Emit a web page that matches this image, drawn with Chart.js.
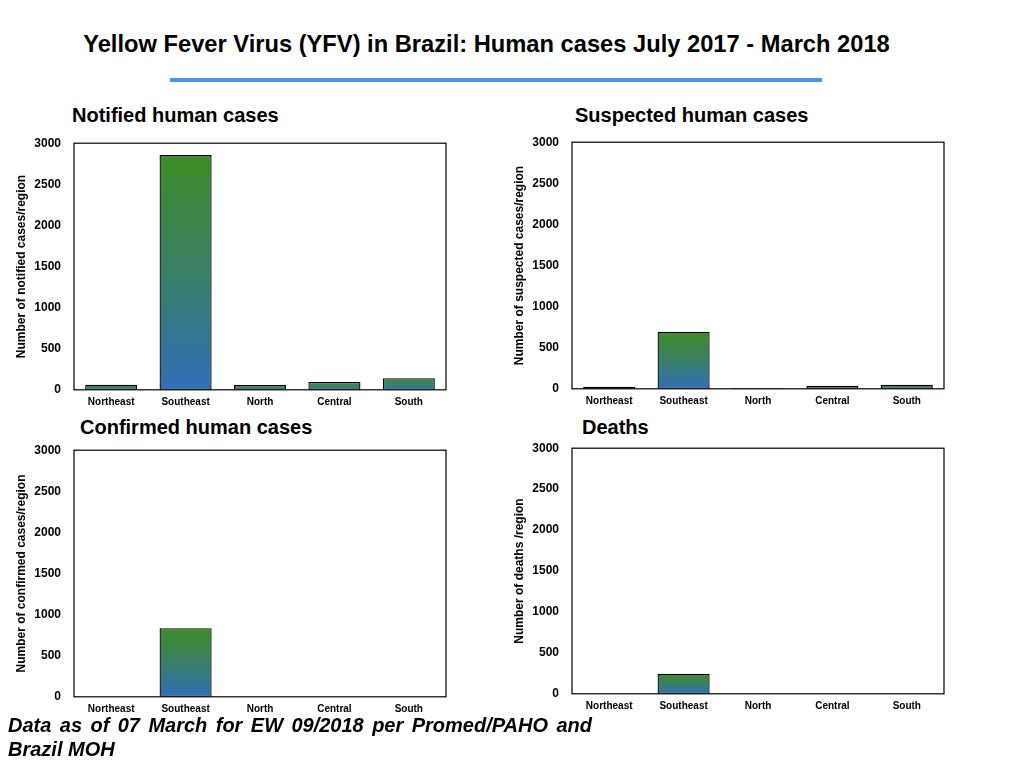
<!DOCTYPE html>
<html>
<head>
<meta charset="utf-8">
<script src="https://cdn.jsdelivr.net/npm/chart.js@4.4.1/dist/chart.umd.min.js"></script>
<style>
  body { margin: 0; width: 1024px; height: 768px; background: #fff; position: relative; overflow: hidden;
         font-family: "Liberation Sans", Arial, sans-serif; color: #000; }
  .abs { position: absolute; }
  #title { left: 0; width: 973px; top: 31px; text-align: center; font-weight: bold; font-size: 23.7px; }
  #rule { left: 170px; top: 78px; width: 652px; height: 4px; background: #4a96e8; }
  .sub { font-weight: bold; font-size: 20px; }
  #foot { left: 8px; top: 713px; width: 584px; font-weight: bold; font-style: italic; font-size: 20px;
          line-height: 24px; text-align: justify; text-align-last: left; }
  canvas.abs { display: block; }
</style>
</head>
<body>
<div id="title" class="abs">Yellow Fever Virus (YFV) in Brazil: Human cases July 2017 - March 2018</div>
<div id="rule" class="abs"></div>
<div class="abs sub" style="left:72px; top:104px;">Notified human cases</div>
<div class="abs sub" style="left:575px; top:104px;">Suspected human cases</div>
<div class="abs sub" style="left:80px; top:416px;">Confirmed human cases</div>
<div class="abs sub" style="left:582px; top:416px;">Deaths</div>

<canvas id="cNotified" class="abs" style="left:10px; top:123px;" width="440" height="287"></canvas>
<canvas id="cSuspected" class="abs" style="left:508px; top:122px;" width="440" height="287"></canvas>
<canvas id="cConfirmed" class="abs" style="left:10px; top:430px;" width="440" height="287"></canvas>
<canvas id="cDeaths" class="abs" style="left:508px; top:428px;" width="440" height="286"></canvas>

<div id="foot" class="abs">Data as of 07 March for EW 09/2018 per Promed/PAHO and Brazil MOH</div>

<script>
const regions = ["Northeast", "Southeast", "North", "Central", "South"];
const notifiedCases = [62, 2855, 57, 94, 142];
const suspectedCases = [25, 695, 10, 37, 50];
const confirmedCases = [0, 834, 0, 0, 0];
const deathCases = [0, 245, 0, 0, 0];
const yTicks = [0, 500, 1000, 1500, 2000, 2500, 3000];

Chart.defaults.font.family = '"Liberation Sans", Arial, sans-serif';
Chart.defaults.color = "#000";
Chart.defaults.animation = false;

// black frame around the plot area
const framePlugin = {
  id: "frame",
  afterDraw(chart) {
    const a = chart.chartArea;
    const ctx = chart.ctx;
    ctx.save();
    ctx.strokeStyle = "#000";
    ctx.lineWidth = 1.2;
    ctx.strokeRect(a.left, a.top, a.right - a.left, a.bottom - a.top);
    ctx.restore();
  },
};

function barFill(context) {
  const chart = context.chart;
  if (!chart.chartArea) return "#3a7d5a";
  const y = chart.scales.y;
  const v = context.raw || 0;
  const top = y.getPixelForValue(v);
  const bottom = y.getPixelForValue(0);
  if (bottom - top < 1) return "#3a7d5a";
  const g = chart.ctx.createLinearGradient(0, top, 0, bottom);
  g.addColorStop(0, "#3f8c27");
  g.addColorStop(0.5, "#3a7f66");
  g.addColorStop(1, "#2f6fb8");
  return g;
}

function makeChart(id, values, yTitle) {
  new Chart(document.getElementById(id), {
    type: "bar",
    data: {
      labels: regions,
      datasets: [
        {
          data: values,
          backgroundColor: barFill,
          borderColor: "#000",
          borderWidth: (ctx) => (ctx.raw > 0 ? 1.3 : 0),
          borderSkipped: false,
          barPercentage: 0.7,
          categoryPercentage: 1,
        },
      ],
    },
    options: {
      responsive: false,
      layout: { padding: { top: 6, right: 4, left: 4, bottom: 0 } },
      plugins: { legend: { display: false }, tooltip: { enabled: false } },
      scales: {
        x: {
          grid: { display: false, drawTicks: false },
          border: { display: false },
          ticks: { font: { size: 10, weight: "bold" }, padding: 6, maxRotation: 0 },
          afterFit: (s) => { s.height = 20; },
        },
        y: {
          min: 0,
          max: 3000,
          afterBuildTicks: (s) => { s.ticks = yTicks.map((v) => ({ value: v })); },
          grid: { display: false, drawTicks: false },
          border: { display: false },
          ticks: { font: { size: 12, weight: "bold" }, padding: 13, callback: (v) => String(v) },
          title: { display: true, text: yTitle, font: { size: 12, weight: "bold" }, padding: 0 },
          afterFit: (s) => { s.width = 60; },
        },
      },
    },
    plugins: [framePlugin],
  });
}

makeChart("cNotified", notifiedCases, "Number of notified cases/region");
makeChart("cSuspected", suspectedCases, "Number of suspected cases/region");
makeChart("cConfirmed", confirmedCases, "Number of confirmed cases/region");
makeChart("cDeaths", deathCases, "Number of deaths /region");
</script>
</body>
</html>
